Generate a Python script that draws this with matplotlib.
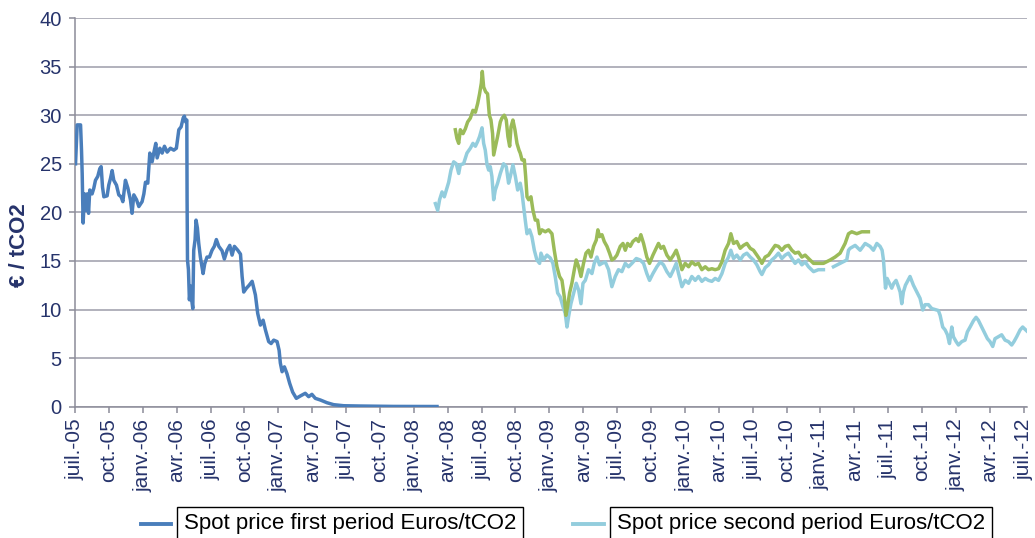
import matplotlib
matplotlib.use("Agg")
import matplotlib.pyplot as plt
from matplotlib.lines import Line2D
import numpy as np

nan = float("nan")

# x values are decimal years, y values in EUR / tCO2
first_period = [
    (2005.504, 25.0), (2005.516, 29.0), (2005.541, 29.0), (2005.548, 26.4), (2005.553, 24.0),
    (2005.560, 18.9), (2005.570, 21.9), (2005.580, 20.2), (2005.590, 21.9), (2005.600, 19.9),
    (2005.609, 22.3), (2005.626, 21.9), (2005.639, 22.5), (2005.651, 23.3), (2005.668, 23.7),
    (2005.683, 24.5), (2005.693, 24.7), (2005.703, 22.6), (2005.713, 21.6), (2005.737, 21.7),
    (2005.749, 22.8), (2005.762, 23.5), (2005.774, 24.3), (2005.786, 23.3), (2005.806, 22.8),
    (2005.823, 21.8), (2005.840, 21.6), (2005.853, 21.1), (2005.872, 23.3), (2005.890, 22.5),
    (2005.909, 21.3), (2005.921, 19.9), (2005.934, 21.8), (2005.954, 21.3), (2005.971, 20.6),
    (2005.995, 21.1), (2006.008, 21.9), (2006.020, 23.1), (2006.037, 23.0), (2006.052, 26.1),
    (2006.069, 25.2), (2006.081, 26.1), (2006.096, 27.1), (2006.106, 25.6), (2006.126, 26.6),
    (2006.143, 26.1), (2006.160, 26.8), (2006.180, 26.2), (2006.204, 26.6), (2006.229, 26.4),
    (2006.248, 26.6), (2006.266, 28.5), (2006.283, 28.8), (2006.298, 29.7), (2006.307, 29.9),
    (2006.317, 29.3), (2006.325, 29.5), (2006.327, 21.3), (2006.330, 15.1), (2006.337, 14.1),
    (2006.344, 11.0), (2006.354, 12.4), (2006.361, 11.0), (2006.369, 10.1), (2006.376, 16.1),
    (2006.386, 17.2), (2006.393, 19.2), (2006.403, 18.4), (2006.413, 16.8), (2006.425, 15.4),
    (2006.445, 13.7), (2006.457, 14.7), (2006.474, 15.4), (2006.492, 15.4), (2006.511, 16.1),
    (2006.528, 16.5), (2006.543, 17.2), (2006.561, 16.5), (2006.585, 16.05), (2006.602, 15.2),
    (2006.622, 16.1), (2006.642, 16.6), (2006.659, 15.6), (2006.676, 16.5), (2006.701, 16.1),
    (2006.721, 15.7), (2006.733, 13.4), (2006.745, 11.8), (2006.765, 12.2), (2006.785, 12.5),
    (2006.807, 12.9), (2006.831, 11.5), (2006.848, 9.6), (2006.868, 8.4), (2006.888, 8.9),
    (2006.905, 7.9), (2006.929, 6.7), (2006.947, 6.5), (2006.966, 6.85), (2006.991, 6.7),
    (2007.006, 5.8), (2007.015, 4.5), (2007.028, 3.6), (2007.045, 4.1), (2007.064, 3.4),
    (2007.084, 2.4), (2007.106, 1.5), (2007.133, 0.86), (2007.162, 1.1), (2007.199, 1.38),
    (2007.224, 1.03), (2007.248, 1.27), (2007.273, 0.86), (2007.310, 0.69), (2007.359, 0.41),
    (2007.408, 0.21), (2007.482, 0.1), (2007.605, 0.07), (2007.851, 0.03), (2008.171, 0.02),
]

second_period = [
    (2008.159, 20.9), (2008.176, 20.2), (2008.190, 21.3), (2008.208, 22.1), (2008.225, 21.6),
    (2008.240, 22.3), (2008.257, 23.1), (2008.274, 24.35), (2008.294, 25.2), (2008.313, 25.0),
    (2008.331, 24.0), (2008.343, 24.9), (2008.367, 25.0), (2008.392, 26.1), (2008.417, 26.6),
    (2008.436, 27.1), (2008.454, 26.8), (2008.471, 27.3), (2008.485, 27.8), (2008.503, 28.7),
    (2008.515, 27.1), (2008.527, 26.4), (2008.540, 24.9), (2008.552, 24.35), (2008.564, 24.7),
    (2008.576, 23.7), (2008.589, 21.3), (2008.601, 22.3), (2008.618, 23.0), (2008.638, 24.0),
    (2008.662, 25.0), (2008.682, 24.7), (2008.699, 23.0), (2008.712, 23.7), (2008.731, 24.9),
    (2008.749, 23.7), (2008.766, 22.3), (2008.785, 23.0), (2008.798, 22.0), (2008.810, 20.6),
    (2008.822, 19.2), (2008.835, 17.8), (2008.854, 18.2), (2008.871, 17.5), (2008.889, 16.1),
    (2008.908, 15.1), (2008.928, 14.75), (2008.938, 15.8), (2008.957, 15.1), (2008.982, 15.6),
    (2009.007, 15.3), (2009.026, 14.75), (2009.043, 13.4), (2009.061, 11.7), (2009.080, 11.3),
    (2009.100, 10.3), (2009.117, 9.6), (2009.130, 8.2), (2009.142, 9.3), (2009.159, 10.6),
    (2009.179, 11.7), (2009.198, 12.7), (2009.216, 12.0), (2009.233, 10.6), (2009.248, 12.7),
    (2009.265, 13.0), (2009.289, 14.1), (2009.314, 13.7), (2009.331, 14.75), (2009.351, 15.4),
    (2009.370, 14.6), (2009.388, 14.75), (2009.412, 14.9), (2009.437, 14.1), (2009.461, 12.35),
    (2009.486, 13.4), (2009.510, 14.1), (2009.535, 13.9), (2009.560, 14.75), (2009.584, 14.4),
    (2009.609, 14.75), (2009.641, 15.25), (2009.670, 15.1), (2009.695, 14.75), (2009.719, 13.7),
    (2009.739, 13.0), (2009.764, 13.7), (2009.793, 14.4), (2009.818, 14.9), (2009.842, 14.6),
    (2009.867, 13.9), (2009.892, 13.4), (2009.916, 14.1), (2009.936, 14.75), (2009.953, 13.7),
    (2009.978, 12.35), (2010.002, 13.0), (2010.027, 12.7), (2010.051, 13.4), (2010.076, 13.0),
    (2010.100, 13.4), (2010.125, 12.9), (2010.150, 13.2), (2010.174, 13.0), (2010.199, 12.9),
    (2010.223, 13.2), (2010.248, 13.0), (2010.273, 13.7), (2010.297, 14.75), (2010.322, 15.4),
    (2010.339, 16.1), (2010.359, 15.25), (2010.383, 15.6), (2010.408, 15.1), (2010.432, 15.6),
    (2010.457, 15.8), (2010.482, 15.4), (2010.506, 15.1), (2010.531, 14.6), (2010.555, 13.9),
    (2010.568, 13.6), (2010.592, 14.3), (2010.617, 14.6), (2010.641, 15.1), (2010.666, 15.4),
    (2010.690, 15.8), (2010.715, 15.25), (2010.740, 15.6), (2010.764, 15.8), (2010.789, 15.25),
    (2010.813, 14.75), (2010.838, 15.1), (2010.863, 14.6), (2010.887, 14.9), (2010.912, 14.4),
    (2010.949, 13.9), (2010.985, 14.1), (2011.022, 14.1), (2011.050, nan), (2011.096, 14.4),
    (2011.145, 14.75), (2011.194, 15.1), (2011.207, 16.1), (2011.219, 16.3), (2011.256, 16.6),
    (2011.293, 16.1), (2011.330, 16.8), (2011.366, 16.5), (2011.391, 16.1), (2011.416, 16.8),
    (2011.440, 16.5), (2011.455, 16.1), (2011.465, 15.1), (2011.472, 13.7), (2011.480, 12.2),
    (2011.492, 13.2), (2011.509, 12.7), (2011.526, 12.2), (2011.541, 12.7), (2011.558, 13.0),
    (2011.575, 12.35), (2011.588, 11.8), (2011.600, 10.6), (2011.612, 11.8), (2011.627, 12.5),
    (2011.642, 12.9), (2011.661, 13.4), (2011.686, 12.5), (2011.711, 11.8), (2011.735, 11.15),
    (2011.755, 9.95), (2011.772, 10.5), (2011.797, 10.5), (2011.821, 10.1), (2011.846, 10.0),
    (2011.870, 9.9), (2011.883, 9.4), (2011.902, 8.2), (2011.920, 7.9), (2011.937, 7.4),
    (2011.952, 6.5), (2011.969, 8.2), (2011.981, 7.2), (2012.001, 6.7), (2012.018, 6.35),
    (2012.043, 6.7), (2012.067, 6.85), (2012.084, 7.7), (2012.104, 8.2), (2012.129, 8.85),
    (2012.148, 9.2), (2012.165, 8.9), (2012.190, 8.2), (2012.215, 7.5), (2012.232, 7.0),
    (2012.251, 6.7), (2012.271, 6.2), (2012.288, 7.0), (2012.313, 7.2), (2012.337, 7.4),
    (2012.362, 6.85), (2012.387, 6.7), (2012.411, 6.35), (2012.428, 6.7), (2012.448, 7.2),
    (2012.473, 7.9), (2012.492, 8.2), (2012.522, 7.8),
]

futures_second = [
    (2008.306, 28.5), (2008.318, 27.6), (2008.331, 27.1), (2008.343, 28.5), (2008.363, 28.1),
    (2008.380, 28.6), (2008.397, 29.3), (2008.417, 29.7), (2008.436, 30.5), (2008.454, 30.3),
    (2008.471, 31.2), (2008.485, 32.2), (2008.498, 33.3), (2008.505, 34.5), (2008.515, 32.9),
    (2008.530, 32.4), (2008.544, 32.2), (2008.557, 30.0), (2008.569, 29.5), (2008.581, 28.1),
    (2008.589, 25.9), (2008.601, 26.7), (2008.618, 27.8), (2008.638, 29.3), (2008.650, 29.7),
    (2008.667, 30.0), (2008.682, 29.5), (2008.694, 27.8), (2008.707, 26.8), (2008.717, 28.8),
    (2008.731, 29.5), (2008.746, 28.5), (2008.761, 27.1), (2008.776, 26.4), (2008.785, 26.1),
    (2008.798, 25.4), (2008.815, 25.4), (2008.825, 23.7), (2008.835, 21.6), (2008.847, 21.3),
    (2008.864, 21.6), (2008.879, 20.2), (2008.896, 19.2), (2008.913, 19.2), (2008.928, 17.8),
    (2008.945, 18.2), (2008.970, 18.0), (2008.994, 18.2), (2009.019, 17.8), (2009.036, 16.1),
    (2009.056, 14.4), (2009.075, 13.4), (2009.093, 13.0), (2009.110, 11.3), (2009.122, 9.4),
    (2009.134, 10.3), (2009.149, 11.7), (2009.166, 12.7), (2009.184, 14.1), (2009.198, 15.1),
    (2009.216, 14.4), (2009.233, 13.4), (2009.252, 14.75), (2009.270, 15.8), (2009.289, 16.1),
    (2009.307, 15.4), (2009.326, 16.5), (2009.346, 17.15), (2009.358, 18.2), (2009.370, 17.5),
    (2009.388, 17.7), (2009.405, 17.0), (2009.425, 16.5), (2009.444, 15.8), (2009.461, 15.1),
    (2009.479, 15.25), (2009.498, 15.6), (2009.523, 16.5), (2009.543, 16.8), (2009.560, 16.1),
    (2009.577, 16.8), (2009.597, 16.5), (2009.616, 17.0), (2009.641, 17.3), (2009.658, 17.0),
    (2009.675, 17.7), (2009.695, 16.8), (2009.719, 15.4), (2009.739, 14.75), (2009.764, 15.6),
    (2009.781, 16.1), (2009.805, 16.8), (2009.823, 16.3), (2009.842, 16.5), (2009.867, 15.6),
    (2009.892, 15.1), (2009.916, 15.6), (2009.936, 16.1), (2009.953, 15.4), (2009.978, 14.1),
    (2010.002, 14.75), (2010.027, 14.4), (2010.051, 14.9), (2010.076, 14.6), (2010.100, 14.75),
    (2010.125, 14.1), (2010.150, 14.4), (2010.174, 14.1), (2010.199, 14.2), (2010.223, 14.1),
    (2010.248, 14.2), (2010.273, 14.9), (2010.297, 16.1), (2010.322, 16.8), (2010.339, 17.8),
    (2010.359, 16.8), (2010.383, 17.0), (2010.408, 16.3), (2010.432, 16.6), (2010.457, 16.8),
    (2010.482, 16.3), (2010.506, 16.1), (2010.531, 15.6), (2010.555, 15.1), (2010.568, 14.75),
    (2010.592, 15.4), (2010.617, 15.6), (2010.641, 16.1), (2010.666, 16.6), (2010.690, 16.5),
    (2010.715, 16.1), (2010.740, 16.5), (2010.764, 16.6), (2010.789, 16.1), (2010.813, 15.8),
    (2010.838, 15.9), (2010.863, 15.4), (2010.887, 15.6), (2010.912, 15.25), (2010.949, 14.75),
    (2010.985, 14.75), (2011.022, 14.75), (2011.072, 15.1), (2011.108, 15.4), (2011.145, 15.8),
    (2011.182, 16.8), (2011.207, 17.8), (2011.231, 18.0), (2011.268, 17.8), (2011.305, 18.0),
    (2011.354, 18.0),
]

tick_labels = [
    "juil.-05", "oct.-05", "janv.-06", "avr.-06", "juil.-06", "oct.-06", "janv.-07", "avr.-07",
    "juil.-07", "oct.-07", "janv.-08", "avr.-08", "juil.-08", "oct.-08", "janv.-09", "avr.-09",
    "juil.-09", "oct.-09", "janv.-10", "avr.-10", "juil.-10", "oct.-10", "janv.-11", "avr.-11",
    "juil.-11", "oct.-11", "janv.-12", "avr.-12", "juil.-12",
]
y_ticks = [0, 5, 10, 15, 20, 25, 30, 35, 40]

legend_labels = ["Spot price first period Euros/tCO2", "Spot price second period Euros/tCO2"]

C_FIRST = "#4A7EBB"
C_SECOND = "#93CDDD"
C_FUT = "#9BBB59"
C_TEXT = "#26336B"
C_GRID = "#9C9CAA"

plt.rcParams["font.family"] = ["Liberation Sans", "DejaVu Sans"]

fig = plt.figure(figsize=(10.35, 5.38), dpi=100)
ax = fig.add_axes([75 / 1035, 1 - 406.7 / 538, (1027 - 75) / 1035, (406.7 - 18) / 538])

def xy(series):
    arr = np.array(series, dtype=float)
    return arr[:, 0], arr[:, 1]

t, v = xy(second_period)
ax.plot(t, v, color=C_SECOND, lw=2.5, solid_joinstyle="round", zorder=3)
t, v = xy(futures_second)
ax.plot(t, v, color=C_FUT, lw=2.5, solid_joinstyle="round", zorder=4)
t, v = xy(first_period)
ax.plot(t, v, color=C_FIRST, lw=2.5, solid_joinstyle="round", zorder=5)

ax.set_ylim(0, 40)
ax.set_xlim(2005.5, 2012.524)
ax.set_yticks(y_ticks)
ax.set_yticklabels([str(y) for y in y_ticks])
xt = [2005.5 + 0.25 * k for k in range(len(tick_labels))]
ax.set_xticks(xt)
ax.set_xticklabels(tick_labels, rotation=90)

ax.yaxis.grid(True, color=C_GRID, lw=1.1)
ax.set_axisbelow(True)
for s in ["top", "right"]:
    ax.spines[s].set_visible(False)
for s in ["left", "bottom"]:
    ax.spines[s].set_color("#8C8C99")
    ax.spines[s].set_linewidth(1.1)
ax.tick_params(axis="both", colors="#8C8C99", length=4.5, width=1.1, labelsize=14.5,
               labelcolor=C_TEXT)
ax.tick_params(axis="x", labelsize=15, pad=4)
ax.tick_params(axis="y", pad=5)

ax.set_ylabel("€ / tCO2", fontsize=16, fontweight="bold", color=C_TEXT)
ax.yaxis.set_label_coords(-0.047, 0.416)

# legend
ly = 1 - 524 / 538
fig.add_artist(Line2D([141 / 1035, 171 / 1035], [ly, ly], transform=fig.transFigure,
                      color=C_FIRST, lw=2.8))
fig.add_artist(Line2D([573 / 1035, 604 / 1035], [ly, ly], transform=fig.transFigure,
                      color=C_SECOND, lw=2.8))
bb = dict(boxstyle="square,pad=0.3", fc="white", ec="black", lw=1.0)
fig.text(184 / 1035, ly, legend_labels[0], fontsize=16, color="black", va="center",
         ha="left", bbox=bb)
fig.text(617 / 1035, ly, legend_labels[1], fontsize=16, color="black", va="center",
         ha="left", bbox=bb)

fig.savefig("out.png", dpi=100)
